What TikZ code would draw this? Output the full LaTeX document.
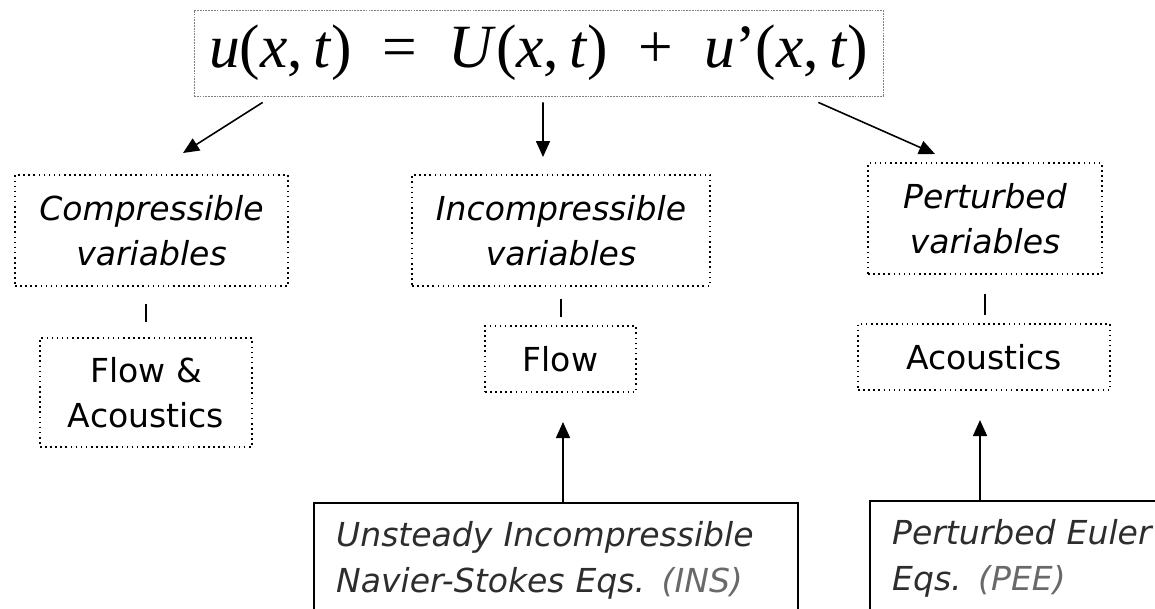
\documentclass[tikz,border=0pt]{standalone}
\usepackage{fontspec}
\setmainfont{DejaVu Sans}
\newfontfamily\eqfont{Liberation Serif}
\usepackage{xcolor}
\usetikzlibrary{arrows.meta}
\definecolor{bodytext}{RGB}{45,45,45}
\definecolor{acrotext}{RGB}{105,105,105}

\begin{document}
\begin{tikzpicture}[x=0.02cm, y=-0.02cm, >={Triangle[length=0.32cm, width=0.28cm]},
    varbox/.style={draw, dotted, line width=0.9pt, align=center, inner sep=0pt, font=\fontsize{18.8}{25.8}\selectfont\itshape},
    domainbox/.style={varbox, font=\fontsize{18.8}{25.8}\selectfont},
    modelbox/.style={draw, line width=1.3pt, anchor=north west, align=left, inner xsep=0.44cm, inner ysep=0.37cm, text depth=1.6cm, text=bodytext, font=\fontsize{18.8}{26}\selectfont\itshape},
    link/.style={line width=0.9pt}]
    \useasboundingbox (0,0) rectangle (1155,608);
    \clip (0,0) rectangle (1155,608);

    \node[draw=gray, dash pattern=on 1pt off 0.6pt, line width=0.5pt, minimum width=13.78cm, minimum height=1.72cm, inner sep=0pt] (eqn) at (538.5,53)
        {\eqfont\fontsize{35}{40}\selectfont \textit{u}(\textit{x},\,\textit{t})\ \ =\ \ \textit{U}(\textit{x},\,\textit{t})\ \ +\ \ \textit{u}’(\textit{x},\,\textit{t})};

    \node[varbox, minimum width=5.46cm, minimum height=2.22cm] (comp) at (151.5,230.5) {Compressible\\variables};
    \node[varbox, minimum width=5.96cm, minimum height=2.22cm] (incomp) at (561,230.5) {Incompressible\\variables};
    \node[varbox, minimum width=4.68cm, minimum height=2.22cm] (pert) at (985,218.5) {Perturbed\\variables};

    \node[domainbox, minimum width=4.24cm, minimum height=2.18cm] (flowac) at (146,392.5) {Flow \&\\Acoustics};
    \node[domainbox, minimum width=3.02cm, minimum height=1.32cm] (flow) at (560.5,359) {Flow};
    \node[domainbox, minimum width=5.04cm, minimum height=1.32cm] (acou) at (984,357) {Acoustics};

    \node[modelbox, text width=8.8cm] (ins) at (313,502) {Unsteady Incompressible\\Navier-Stokes Eqs. \textcolor{acrotext}{(INS)}};
    \node[modelbox, text width=7cm] (pee) at (869,500) {Perturbed Euler\\Eqs. \textcolor{acrotext}{(PEE)}};

    % splitting of the variables
    \coordinate (tipL) at (183,153);
    \coordinate (tipM) at (543,157);
    \coordinate (tipR) at (935,154);
    \draw[->, link] (eqn.south west) ++(69,6) -- (tipL);
    \draw[->, link] (eqn.south) ++(4.5,6) -- (tipM);
    \draw[->, link] (eqn.south east) ++(-65,6) -- (tipR);

    \draw[link, shorten <=0.34cm, shorten >=0.3cm] (comp.south -| flowac.north) -- (flowac.north);
    \draw[link, shorten <=0.24cm, shorten >=0.16cm] (incomp.south) -- (incomp.south |- flow.north);
    \draw[link, shorten <=0.38cm, shorten >=0.16cm] (pert.south) -- (pert.south |- acou.north);

    % equations feeding the solvers
    \coordinate (flowtip) at (563,422);
    \coordinate (acoutip) at (980,420);
    \draw[->, link] (ins.north -| flowtip) -- (flowtip);
    \draw[->, link] (pee.north -| acoutip) -- (acoutip);
\end{tikzpicture}
\end{document}
